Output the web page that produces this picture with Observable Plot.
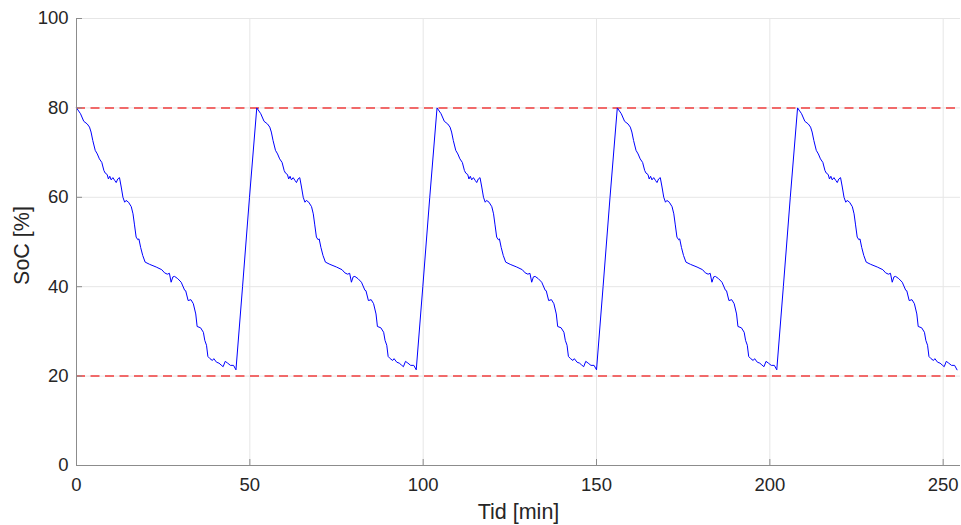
<!DOCTYPE html>
<html>
<head>
<meta charset="utf-8">
<script src="https://cdn.jsdelivr.net/npm/d3@7"></script>
<script src="https://cdn.jsdelivr.net/npm/@observablehq/plot@0.6"></script>
<style>
  html, body { margin: 0; padding: 0; background: #fff; }
</style>
</head>
<body>
<div id="chart"></div>
<script>
// ---- data ----
// start time (min) of each drive cycle (SoC = 80 % at each start)
const cycleStarts = [0, 52, 104, 156, 208];
// discharge profile within one cycle (minutes since cycle start, SoC %)
const dischargeTime = [0, 1.15, 2.1, 3.1, 3.75, 4.2, 4.7, 5.4, 6.0, 6.6, 7.3, 7.9, 8.3, 8.85, 9.2, 9.6, 10.0, 10.5, 11.0, 11.45, 11.9, 12.4, 12.9, 13.4, 13.9, 14.3, 15.0, 15.8, 16.3, 16.7, 17.2, 17.7, 18.0, 18.5, 19.1, 19.8, 21.1, 23.0, 24.6, 25.4, 26.2, 26.8, 27.3, 27.8, 28.3, 29.2, 30.2, 31.2, 31.5, 32.2, 33.0, 33.7, 34.4, 34.8, 35.8, 36.6, 37.0, 37.5, 37.9, 38.5, 39.2, 39.6, 40.4, 41.1, 41.7, 42.3, 42.9, 43.6, 44.4, 45.3, 46.0];
const dischargeSoC  = [80, 78.7, 77.0, 76.4, 75.7, 74.6, 72.7, 70.5, 69.7, 68.6, 67.8, 66.0, 65.4, 65.1, 64.1, 64.7, 63.9, 64.4, 63.8, 63.3, 64.1, 64.4, 62.3, 60.0, 58.9, 59.3, 58.9, 57.9, 56.3, 54.0, 51.1, 50.5, 50.7, 48.8, 47.0, 45.5, 45.0, 44.4, 43.8, 43.1, 42.8, 43.0, 41.0, 42.2, 42.3, 41.8, 41.0, 39.2, 39.1, 36.9, 37.1, 36.2, 33.9, 31.1, 30.8, 29.8, 28.0, 26.9, 24.4, 23.9, 23.5, 23.9, 23.1, 22.9, 22.5, 22.1, 23.3, 22.9, 22.4, 22.4, 21.4];
// charging ramp back up to 80 % (intermediate readings)
const chargeTime = [47.9, 49.9];
const chargeSoC  = [40, 60];
// SoC limits (dashed red)
const limits = [20, 80];
// axes
const xTicks = [0, 50, 100, 150, 200, 250];
const yTicks = [0, 20, 40, 60, 80, 100];
const xDomain = [0, 255];
const yDomain = [0, 100];
const xLabel = "Tid [min]";
const yLabel = "SoC [%]";

// ---- build table ----
const series = [];
cycleStarts.forEach((c, i) => {
  dischargeTime.forEach((t, j) => series.push({t: c + t, soc: dischargeSoC[j]}));
  if (i < cycleStarts.length - 1) {
    chargeTime.forEach((t, j) => series.push({t: c + t, soc: chargeSoC[j]}));
  }
});

// ---- layout ----
const W = 961, H = 525;
const mL = 76, mR = 1, mT = 18, mB = 60;
const fw = W - mL - mR, fh = H - mT - mB;
const axisColor = "#8c8c8c";
const textColor = "#262626";

const chart = Plot.plot({
  width: W,
  height: H,
  marginLeft: mL,
  marginRight: mR,
  marginTop: mT,
  marginBottom: mB,
  style: {
    fontFamily: "'Liberation Sans', Arial, Helvetica, sans-serif",
    fontSize: "18.5px",
    color: textColor,
    background: "#fff",
    overflow: "visible"
  },
  x: {domain: xDomain},
  y: {domain: yDomain},
  marks: [
    Plot.gridX(xTicks, {stroke: "#e6e6e6", strokeOpacity: 1}),
    Plot.gridY(yTicks, {stroke: "#e6e6e6", strokeOpacity: 1}),
    Plot.ruleY(limits, {stroke: "#f03c3c", strokeWidth: 1.5, strokeDasharray: "9,5.5"}),
    Plot.line(series, {x: "t", y: "soc", stroke: "#0000ff", strokeWidth: 1}),
    Plot.ruleX([xDomain[0]], {stroke: axisColor}),
    Plot.ruleY([yDomain[0]], {stroke: axisColor}),
    Plot.tickY(yTicks, {y: d => d, stroke: axisColor, insetRight: fw - 6}),
    Plot.tickX(xTicks, {x: d => d, stroke: axisColor, insetTop: fh - 6}),
    Plot.axisX(xTicks, {tickSize: 0, tickPadding: 12, label: null, fontSize: 18.5, fill: textColor}),
    Plot.axisY(yTicks, {tickSize: 0, tickPadding: 8, label: null, fontSize: 18.5, fill: textColor}),
    Plot.text([xLabel], {text: d => d, frameAnchor: "bottom", textAnchor: "middle", lineAnchor: "middle", dy: 47, fontSize: 21.5, fill: textColor}),
    Plot.text([yLabel], {text: d => d, frameAnchor: "left", textAnchor: "middle", lineAnchor: "middle", dx: -54, dy: 3.5, rotate: -90, fontSize: 21.5, fill: textColor})
  ]
});
document.getElementById("chart").appendChild(chart);
</script>
</body>
</html>
